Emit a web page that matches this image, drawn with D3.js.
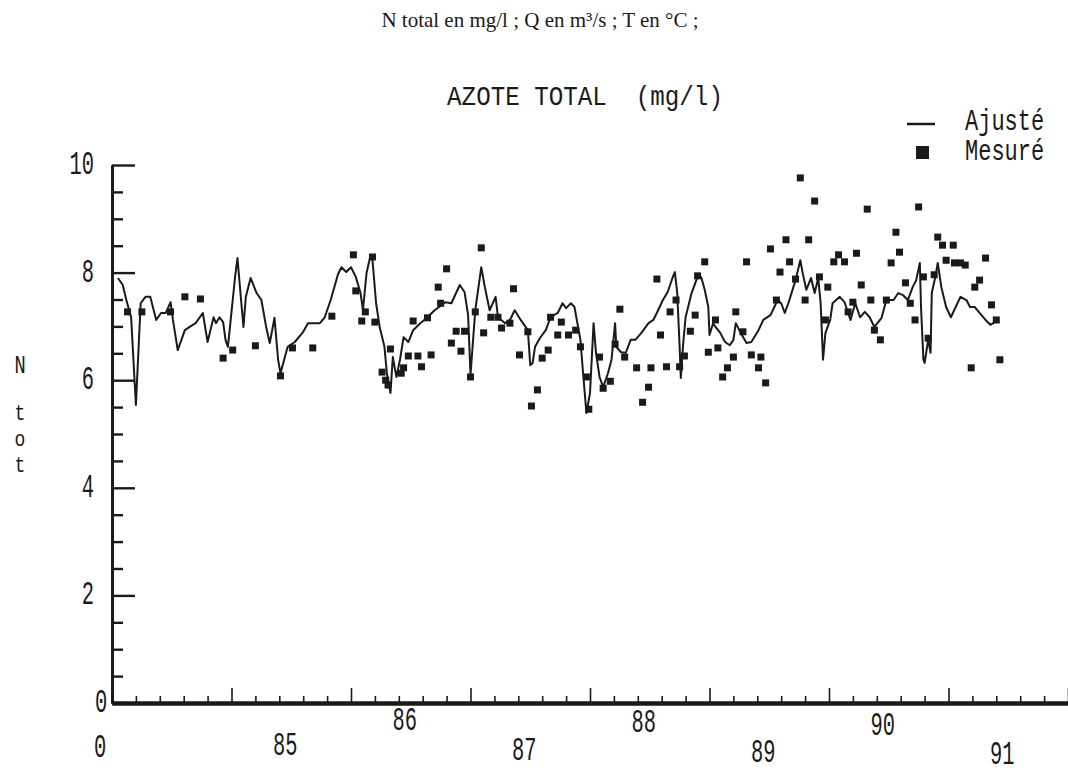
<!DOCTYPE html>
<html>
<head>
<meta charset="utf-8">
<script src="https://cdn.jsdelivr.net/npm/d3@7"></script>
<style>
  body { margin: 0; background: #ffffff; }
  svg { display: block; }
  text { white-space: pre; }
</style>
</head>
<body>
<svg id="chart" width="1068" height="780"></svg>
<script>
// Adjusted total nitrogen series (decimal year, mg/l)
const fitYears = [
  84.05,84.09,84.12,84.16,84.20,84.24,84.28,84.32,84.37,84.41,
  84.45,84.49,84.51,84.55,84.61,84.65,84.70,84.76,84.80,84.85,
  84.87,84.90,84.93,84.95,84.97,85.03,85.05,85.08,85.10,85.12,
  85.16,85.21,85.25,85.29,85.32,85.36,85.39,85.41,85.47,85.53,
  85.60,85.64,85.74,85.78,85.83,85.89,85.92,85.96,86.00,86.04,
  86.08,86.10,86.13,86.16,86.18,86.21,86.24,86.28,86.30,86.33,
  86.35,86.38,86.41,86.44,86.48,86.52,86.58,86.64,86.70,86.79,
  86.84,86.91,86.95,86.98,87.00,87.04,87.09,87.12,87.16,87.21,
  87.23,87.29,87.33,87.37,87.42,87.48,87.50,87.52,87.54,87.58,
  87.63,87.67,87.73,87.77,87.80,87.84,87.87,87.92,87.94,87.97,
  88.00,88.03,88.05,88.08,88.11,88.15,88.18,88.21,88.22,88.26,
  88.30,88.34,88.38,88.43,88.49,88.53,88.57,88.61,88.65,88.69,
  88.71,88.73,88.75,88.76,88.78,88.80,88.85,88.90,88.93,88.96,
  88.99,89.00,89.03,89.05,89.09,89.13,89.17,89.20,89.22,89.26,
  89.31,89.35,89.41,89.45,89.51,89.53,89.57,89.60,89.63,89.66,
  89.72,89.76,89.78,89.81,89.85,89.88,89.91,89.93,89.95,89.97,
  90.01,90.03,90.09,90.13,90.16,90.18,90.22,90.26,90.30,90.34,
  90.38,90.44,90.48,90.54,90.58,90.62,90.66,90.70,90.73,90.76,
  90.77,90.79,90.80,90.83,90.85,90.86,90.89,90.91,90.94,90.98,
  91.02,91.06,91.10,91.15,91.18,91.22,91.26,91.31,91.35,91.39,
  91.41
];
const fitValues = [
  7.90,7.77,7.49,7.17,5.54,7.43,7.55,7.55,7.12,7.25,
  7.25,7.45,7.12,6.56,6.93,6.99,7.06,7.25,6.71,7.17,
  7.06,7.17,7.08,6.75,6.62,7.92,8.27,7.49,6.99,7.55,
  7.90,7.62,7.49,6.99,6.69,7.16,6.38,6.13,6.62,6.71,
  6.90,7.06,7.06,7.17,7.49,7.96,8.10,8.01,8.10,7.92,
  7.62,7.30,7.99,8.29,8.23,7.43,6.99,6.62,6.13,5.76,
  6.43,6.06,6.38,6.80,6.71,6.93,7.06,7.17,7.30,7.45,
  7.43,7.77,7.64,7.21,6.10,7.30,8.10,7.73,7.30,7.55,
  7.17,7.06,7.12,7.30,7.12,6.93,6.28,6.32,6.62,6.78,
  6.93,7.17,7.25,7.43,7.34,7.43,7.36,6.75,6.19,5.39,
  5.76,7.06,6.51,6.06,5.87,6.13,6.38,7.06,6.62,6.52,
  6.51,6.75,6.75,6.88,7.06,7.12,7.30,7.49,7.64,7.90,
  8.01,7.62,6.62,6.04,6.69,7.17,7.62,7.92,7.92,7.68,
  7.36,6.84,7.06,6.99,6.88,6.71,6.65,6.75,7.06,6.88,
  6.69,6.71,6.93,7.12,7.21,7.30,7.49,7.43,7.25,7.43,
  7.86,8.23,7.99,7.68,7.90,7.62,7.90,7.43,6.38,6.88,
  7.12,7.43,7.55,7.45,7.25,7.12,7.43,7.17,7.27,7.17,
  6.99,7.16,7.49,7.49,7.62,7.58,7.49,7.73,7.86,8.18,
  7.36,6.38,6.32,6.75,6.51,7.62,7.92,8.18,7.73,7.36,
  7.17,7.36,7.55,7.49,7.36,7.36,7.25,7.12,7.03,7.08,
  7.08
];

// Measured total nitrogen samples (decimal year, mg/l)
const measYears = [
  84.13,84.25,84.49,84.61,84.74,84.93,85.01,85.20,85.41,85.51,
  85.68,85.84,86.02,86.04,86.09,86.12,86.18,86.20,86.26,86.29,
  86.31,86.33,86.42,86.44,86.48,86.52,86.56,86.59,86.64,86.67,
  86.73,86.75,86.80,86.84,86.88,86.92,86.95,87.00,87.04,87.09,
  87.11,87.17,87.23,87.26,87.33,87.36,87.41,87.48,87.51,87.56,
  87.60,87.65,87.67,87.73,87.76,87.82,87.88,87.92,87.97,87.99,
  88.08,88.11,88.17,88.21,88.25,88.29,88.39,88.44,88.49,88.51,
  88.56,88.59,88.64,88.67,88.72,88.75,88.79,88.84,88.88,88.90,
  88.96,88.99,89.05,89.07,89.11,89.15,89.20,89.22,89.28,89.31,
  89.35,89.41,89.43,89.47,89.51,89.56,89.59,89.64,89.67,89.72,
  89.76,89.80,89.83,89.88,89.92,89.97,89.99,90.04,90.08,90.13,
  90.16,90.20,90.23,90.27,90.32,90.35,90.38,90.43,90.48,90.52,
  90.56,90.59,90.64,90.68,90.72,90.75,90.79,90.83,90.88,90.91,
  90.95,90.98,91.04,91.05,91.10,91.14,91.19,91.22,91.26,91.31,
  91.36,91.40,91.43
];
const measValues = [
  7.27,7.27,7.27,7.55,7.51,6.41,6.56,6.64,6.08,6.60,
  6.60,7.19,8.33,7.66,7.10,7.27,8.29,7.08,6.15,6.00,
  5.91,6.58,6.13,6.23,6.45,7.10,6.45,6.25,7.16,6.47,
  7.73,7.43,8.07,6.69,6.91,6.54,6.91,6.06,7.27,8.46,
  6.88,7.17,7.17,6.97,7.06,7.70,6.47,6.90,5.52,5.82,
  6.41,6.56,7.17,6.84,7.08,6.84,6.93,6.62,6.06,5.46,
  6.43,5.85,5.98,6.67,7.32,6.43,6.23,5.59,5.87,6.23,
  7.88,6.84,6.25,7.27,7.49,6.25,6.45,6.91,7.21,7.94,
  8.20,6.52,7.12,6.60,6.06,6.23,6.43,7.27,6.90,8.20,
  6.47,6.23,6.43,5.95,8.44,7.49,8.01,8.61,8.20,7.88,
  9.76,7.49,8.61,9.33,7.92,7.12,7.73,8.20,8.33,8.20,
  7.27,7.45,8.36,7.77,9.18,7.49,6.93,6.75,7.49,8.18,
  8.75,8.38,7.81,7.43,7.12,9.22,7.92,6.78,7.96,8.66,
  8.51,8.23,8.51,8.18,8.18,8.14,6.23,7.73,7.86,8.27,
  7.40,7.12,6.38
];

// Axis ticks and labels
const yMajorTicks = [0, 2, 4, 6, 8, 10];
const yMinorTicks = [0.5,1,1.5,2.5,3,3.5,4.5,5,5.5,6.5,7,7.5,8.5,9,9.5];
const yTickLabels = ["0", "2", "4", "6", "8", "10"];
const yearTicks = [85, 86, 87, 88, 89, 90, 91, 92];
const yearLabels = ["85", "86", "87", "88", "89", "90", "91"];
const yearLabelDy = [-2, -27, 3, -25, 5, -22, 7];

const svg = d3.select("#chart");
const ink = "#1a1a1a";
const mono = "'Liberation Mono', 'DejaVu Sans Mono', monospace";

const x = d3.scaleLinear().domain([84, 92]).range([112, 1068]);
const y = d3.scaleLinear().domain([0, 10]).range([703, 165]);

// Tall, narrow plotter-style lettering
function plotterText(txt, cx, cy, size, anchor = "middle", sx = 0.85, sy = 1.35) {
  svg.append("g")
    .attr("transform", `translate(${cx},${cy}) scale(${sx},${sy})`)
    .append("text")
    .attr("text-anchor", anchor)
    .attr("dominant-baseline", "central")
    .attr("font-family", mono)
    .attr("font-size", size)
    .attr("fill", ink)
    .text(txt);
}

// Header line
svg.append("text")
  .attr("x", 540).attr("y", 27)
  .attr("text-anchor", "middle")
  .attr("font-family", "'Liberation Serif', 'Times New Roman', serif")
  .attr("font-size", 21)
  .attr("fill", ink)
  .text("N total en mg/l ; Q en m³/s ; T en °C ;");

// Chart title
plotterText("AZOTE TOTAL  (mg/l)", 585, 98, 22, "middle", 1.1, 1.25);

// Y axis: minor and major ticks pointing into the plot
const yMinor = svg.append("g").attr("transform", `translate(${x(84)},0)`)
  .call(d3.axisRight(y).tickValues(yMinorTicks).tickSize(11).tickSizeOuter(0).tickFormat(""));
const yMajor = svg.append("g").attr("transform", `translate(${x(84)},0)`)
  .call(d3.axisRight(y).tickValues(yMajorTicks).tickSize(23).tickSizeOuter(0).tickFormat(""));
[yMinor, yMajor].forEach(g => {
  g.selectAll(".tick line").attr("stroke", ink).attr("stroke-width", 2.4);
  g.select(".domain").attr("stroke", ink).attr("stroke-width", 3);
});

// X axis: year ticks pointing up
const xMinorTicks = d3.range(84, 92.001, 0.2).filter(v => Math.abs(v - Math.round(v)) > 0.01);
const xMinor = svg.append("g").attr("transform", `translate(0,${y(0)})`)
  .call(d3.axisTop(x).tickValues(xMinorTicks).tickSize(7).tickSizeOuter(0).tickFormat(""));
const xMajor = svg.append("g").attr("transform", `translate(0,${y(0)})`)
  .call(d3.axisTop(x).tickValues(yearTicks).tickSize(15).tickSizeOuter(0).tickFormat(""));
[xMinor, xMajor].forEach(g => {
  g.selectAll(".tick line").attr("stroke", ink).attr("stroke-width", 1.6);
  g.select(".domain").attr("stroke", ink).attr("stroke-width", 4);
});

// Y tick labels
yMajorTicks.forEach((v, i) => {
  plotterText(yTickLabels[i], v === 0 ? 101 : 94, y(v), 24, v === 0 ? "middle" : "end");
});

// X tick labels, staggered under each year
plotterText("0", x(83.9), 748, 24);
yearLabels.forEach((lab, i) => {
  plotterText(lab, x(yearTicks[i] + 0.45), 748 + yearLabelDy[i], 24);
});

// Y axis title, letters stacked
plotterText("N", 20, 366, 22, "middle", 0.85, 1.2);
plotterText("t", 20, 414, 19, "middle", 0.95, 1.15);
plotterText("o", 20, 440, 19, "middle", 0.95, 1.15);
plotterText("t", 20, 466, 19, "middle", 0.95, 1.15);

// Adjusted series
const fitData = d3.zip(fitYears, fitValues);
svg.append("path")
  .datum(fitData)
  .attr("fill", "none")
  .attr("stroke", ink)
  .attr("stroke-width", 2)
  .attr("stroke-linejoin", "round")
  .attr("d", d3.line().x(d => x(d[0])).y(d => y(d[1])));

// Measured samples
const sq = 7;
svg.append("g").selectAll("rect")
  .data(d3.zip(measYears, measValues))
  .join("rect")
  .attr("x", d => x(d[0]) - sq / 2)
  .attr("y", d => y(d[1]) - sq / 2)
  .attr("width", sq)
  .attr("height", sq)
  .attr("fill", ink);

// Legend
svg.append("line")
  .attr("x1", 907).attr("x2", 935).attr("y1", 124).attr("y2", 124)
  .attr("stroke", ink).attr("stroke-width", 2.5);
plotterText("Ajusté", 965, 123, 22, "start", 1.0, 1.3);
svg.append("rect")
  .attr("x", 916).attr("y", 146).attr("width", 13).attr("height", 13)
  .attr("fill", ink);
plotterText("Mesuré", 965, 153, 22, "start", 1.0, 1.3);
</script>
</body>
</html>
